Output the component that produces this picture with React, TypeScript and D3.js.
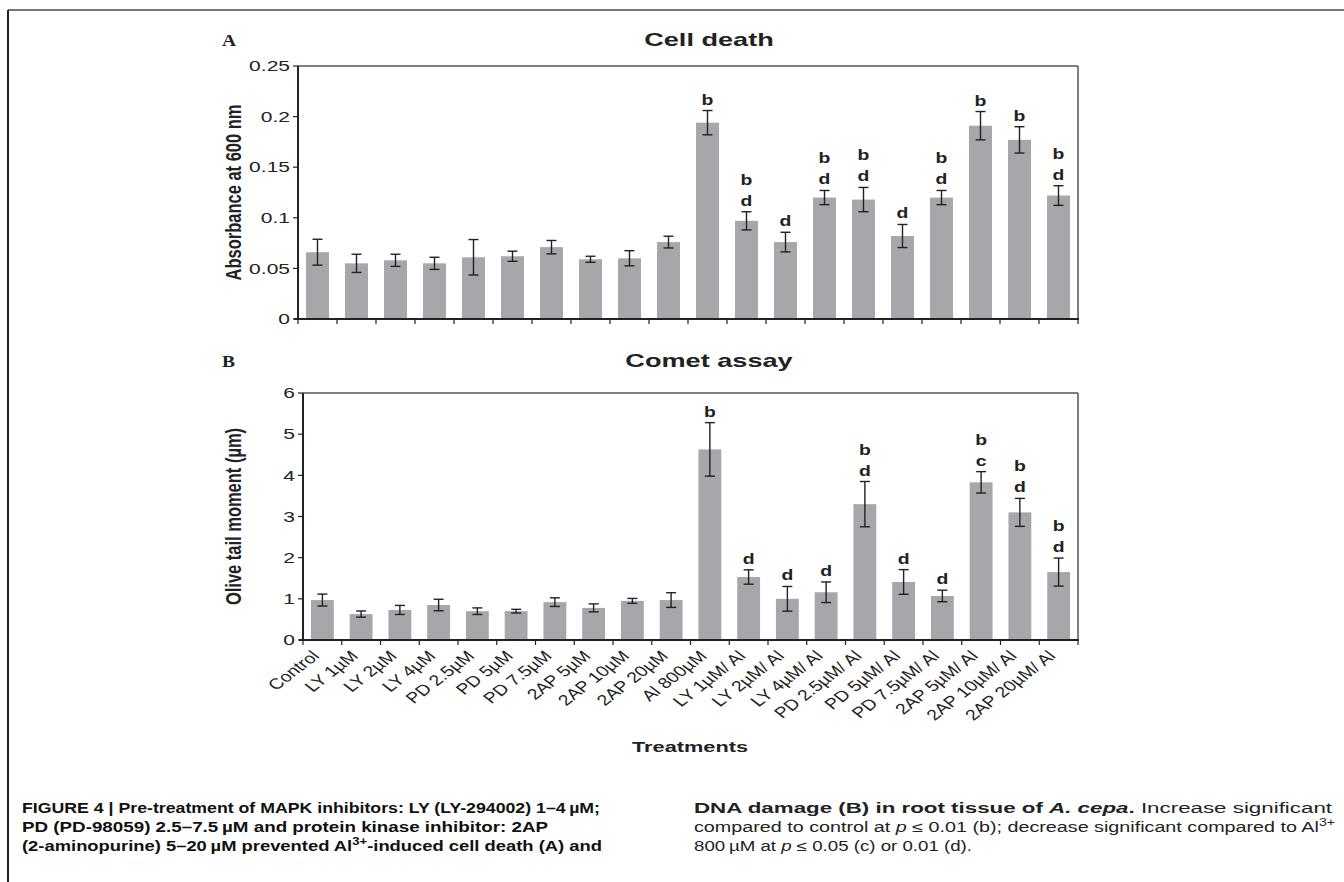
import * as d3 from "d3";

const categories = [
  "Control", "LY 1µM", "LY 2µM", "LY 4µM", "PD 2.5µM", "PD 5µM", "PD 7.5µM",
  "2AP 5µM", "2AP 10µM", "2AP 20µM", "Al 800µM", "LY 1µM/ Al", "LY 2µM/ Al",
  "LY 4µM/ Al", "PD 2.5µM/ Al", "PD 5µM/ Al", "PD 7.5µM/ Al", "2AP 5µM/ Al",
  "2AP 10µM/ Al", "2AP 20µM/ Al",
];

// cell death (absorbance at 600 nm)
const deathMean = [0.066, 0.055, 0.058, 0.055, 0.061, 0.062, 0.071, 0.059, 0.06, 0.076,
  0.194, 0.097, 0.076, 0.12, 0.118, 0.082, 0.12, 0.191, 0.177, 0.122];
const deathErr = [0.0128, 0.009, 0.006, 0.006, 0.0175, 0.005, 0.0066, 0.003, 0.0075, 0.0058,
  0.012, 0.009, 0.0097, 0.007, 0.012, 0.0114, 0.007, 0.014, 0.013, 0.0097];
const deathSig = ["", "", "", "", "", "", "", "", "", "",
  "b", "bd", "d", "bd", "bd", "d", "bd", "b", "b", "bd"];
const deathTicks = [0, 0.05, 0.1, 0.15, 0.2, 0.25];

// comet assay (olive tail moment)
const cometMean = [0.97, 0.63, 0.73, 0.85, 0.7, 0.7, 0.92, 0.78, 0.95, 0.97,
  4.63, 1.53, 1.0, 1.16, 3.3, 1.41, 1.07, 3.83, 3.1, 1.65];
const cometErr = [0.145, 0.075, 0.11, 0.14, 0.08, 0.045, 0.105, 0.097, 0.06, 0.178,
  0.65, 0.174, 0.3, 0.25, 0.55, 0.3, 0.14, 0.26, 0.34, 0.34];
const cometSig = ["", "", "", "", "", "", "", "", "", "",
  "b", "d", "d", "d", "bd", "d", "d", "bc", "bd", "bd"];
const cometTicks = [0, 1, 2, 3, 4, 5, 6];

const SANS = "'Liberation Sans', Arial, Helvetica, sans-serif";
const BAR = "#a6a7ab";
const INK = "#222";
// the chart graphic in the figure is stretched sideways
const SX = 1.45;

type TProps = {
  x: number; y: number; sx?: number; rot?: number; size: number;
  bold?: boolean; anchor?: string; dy?: string; children: any; family?: string;
};

function SText({ x, y, sx = SX, rot, size, bold, anchor = "start", dy, children, family = SANS }: TProps) {
  const tf = `translate(${x},${y}) scale(${sx},1)` + (rot ? ` rotate(${rot})` : "");
  return (
    <text transform={tf} fontFamily={family} fontSize={size} fontWeight={bold ? "bold" : "normal"}
      textAnchor={anchor} dy={dy} fill={INK}>{children}</text>
  );
}

type PanelProps = {
  letter: string;
  title: string;
  yLabel: string;
  means: number[];
  errs: number[];
  sig: string[];
  ticks: number[];
  box: { left: number; right: number; top: number; bottom: number };
  titleY: number;
  showLabels: boolean;
};

function Panel({ letter, title, yLabel, means, errs, sig, ticks, box, titleY, showLabels }: PanelProps) {
  const x = d3.scaleBand<string>()
    .domain(categories)
    .range([box.left, box.right])
    .paddingInner(0.41)
    .paddingOuter(0.205);
  const y = d3.scaleLinear()
    .domain([0, ticks[ticks.length - 1]])
    .range([box.bottom, box.top]);
  const step = x.step();
  const bw = x.bandwidth();
  const cap = 5;

  return (
    <g>
      <SText x={222} y={titleY} sx={1.15} size={17} bold
        family="'Liberation Serif', 'Times New Roman', serif">{letter}</SText>
      <SText x={709} y={titleY} sx={1.55} size={17.5} bold anchor="middle">{title}</SText>

      {/* bars */}
      {categories.map((c, i) => (
        <rect key={c} x={x(c)} y={y(means[i])} width={bw}
          height={box.bottom - y(means[i])} fill={BAR} />
      ))}

      {/* error bars */}
      {categories.map((c, i) => {
        const cx = (x(c) ?? 0) + bw / 2;
        const hi = y(means[i] + errs[i]);
        const lo = y(means[i] - errs[i]);
        return (
          <g key={c} stroke={INK} strokeWidth={1.4}>
            <line x1={cx} x2={cx} y1={hi} y2={lo} />
            <line x1={cx - cap} x2={cx + cap} y1={hi} y2={hi} />
            <line x1={cx - cap} x2={cx + cap} y1={lo} y2={lo} />
          </g>
        );
      })}

      {/* significance letters */}
      {categories.map((c, i) => {
        const cx = (x(c) ?? 0) + bw / 2;
        const hi = y(means[i] + errs[i]);
        const chars = sig[i].split("");
        return chars.map((ch, k) => (
          <SText key={c + k} x={cx} y={hi - 6 - (chars.length - 1 - k) * 21}
            sx={1.25} size={15.5} bold anchor="middle">{ch}</SText>
        ));
      })}

      {/* frame */}
      <line x1={box.left} x2={box.right} y1={box.top} y2={box.top} stroke="#555" strokeWidth={1.5} />
      <line x1={box.right} x2={box.right} y1={box.top} y2={box.bottom} stroke="#555" strokeWidth={1.5} />
      <line x1={box.left} x2={box.left} y1={box.top} y2={box.bottom} stroke={INK} strokeWidth={2} />
      <line x1={box.left - 4} x2={box.right + 1} y1={box.bottom} y2={box.bottom} stroke={INK} strokeWidth={2} />

      {/* y ticks */}
      {ticks.map((t) => (
        <g key={t}>
          <line x1={box.left - 5} x2={box.left} y1={y(t)} y2={y(t)} stroke={INK} strokeWidth={1.2} />
          <SText x={box.left - 8} y={y(t)} dy="0.36em" anchor="end" size={14.5}>{String(t)}</SText>
        </g>
      ))}

      {/* x ticks at category boundaries */}
      {d3.range(categories.length + 1).map((k) => (
        <line key={k} x1={box.left + k * step} x2={box.left + k * step}
          y1={box.bottom} y2={box.bottom + 5} stroke={INK} strokeWidth={1.2} />
      ))}

      {/* y label */}
      <SText x={233} y={(box.top + box.bottom) / 2} sx={1.3} rot={-90} size={16.5} bold
        anchor="middle" dy="0.35em">{yLabel}</SText>

      {showLabels && categories.map((c) => {
        const cx = (x(c) ?? 0) + bw / 2;
        return (
          <SText key={c} x={cx - 2} y={box.bottom + 17} sx={1.3} rot={-45}
            anchor="end" size={15}>{c}</SText>
        );
      })}
    </g>
  );
}

export default function App() {
  const W = 1344;
  const H = 882;
  const capY = [813, 832, 851];
  return (
    <div style={{ position: "absolute", left: 0, top: 0 }}>
      <svg width={W} height={H} style={{ display: "block", background: "#fff" }}>
        {/* figure frame */}
        <line x1={8} x2={W} y1={10} y2={10} stroke="#777" strokeWidth={2} />
        <line x1={8} x2={8} y1={10} y2={H} stroke={INK} strokeWidth={2} />

        <Panel letter="A" title="Cell death" yLabel="Absorbance at 600 nm"
          means={deathMean} errs={deathErr} sig={deathSig} ticks={deathTicks}
          box={{ left: 298, right: 1078, top: 66, bottom: 319 }} titleY={46} showLabels={false} />
        <Panel letter="B" title="Comet assay" yLabel="Olive tail moment (µm)"
          means={cometMean} errs={cometErr} sig={cometSig} ticks={cometTicks}
          box={{ left: 303, right: 1078, top: 393, bottom: 640 }} titleY={367} showLabels={true} />

        <SText x={690} y={752} size={15} bold anchor="middle">Treatments</SText>

        {/* caption, left column */}
        <g fontFamily={SANS} fontWeight="bold" fontSize={14} fill="#111">
          <text x={22} y={capY[0]} textLength={578} lengthAdjust="spacingAndGlyphs">
            FIGURE 4 | Pre-treatment of MAPK inhibitors: LY (LY-294002) 1–4{"\u2009"}µM;
          </text>
          <text x={22} y={capY[1]} textLength={526} lengthAdjust="spacingAndGlyphs">
            PD  (PD-98059)  2.5–7.5{"\u2009"}µM  and  protein  kinase  inhibitor:  2AP
          </text>
          <text x={22} y={capY[2]} textLength={580} lengthAdjust="spacingAndGlyphs">
            (2-aminopurine) 5–20{"\u2009"}µM prevented Al<tspan dy={-6} fontSize={10}>3+</tspan>
            <tspan dy={6}>-induced cell death (A) and</tspan>
          </text>
        </g>

        {/* caption, right column */}
        <g fontFamily={SANS} fontSize={14} fill="#222">
          <text x={694} y={capY[0]} textLength={638} lengthAdjust="spacingAndGlyphs">
            <tspan fontWeight="bold">DNA damage (B) in root tissue of </tspan>
            <tspan fontWeight="bold" fontStyle="italic">A. cepa</tspan>
            <tspan fontWeight="bold">.</tspan>
            <tspan>{"  Increase  significant"}</tspan>
          </text>
          <text x={694} y={capY[1]} textLength={641} lengthAdjust="spacingAndGlyphs">
            compared to control at <tspan fontStyle="italic">p</tspan> ≤ 0.01 (b); decrease significant compared to Al<tspan dy={-6} fontSize={10}>3+</tspan>
          </text>
          <text x={694} y={capY[2]} textLength={278} lengthAdjust="spacingAndGlyphs">
            800{"\u2009"}µM at <tspan fontStyle="italic">p</tspan> ≤ 0.05  (c) or 0.01  (d).
          </text>
        </g>
      </svg>
    </div>
  );
}
